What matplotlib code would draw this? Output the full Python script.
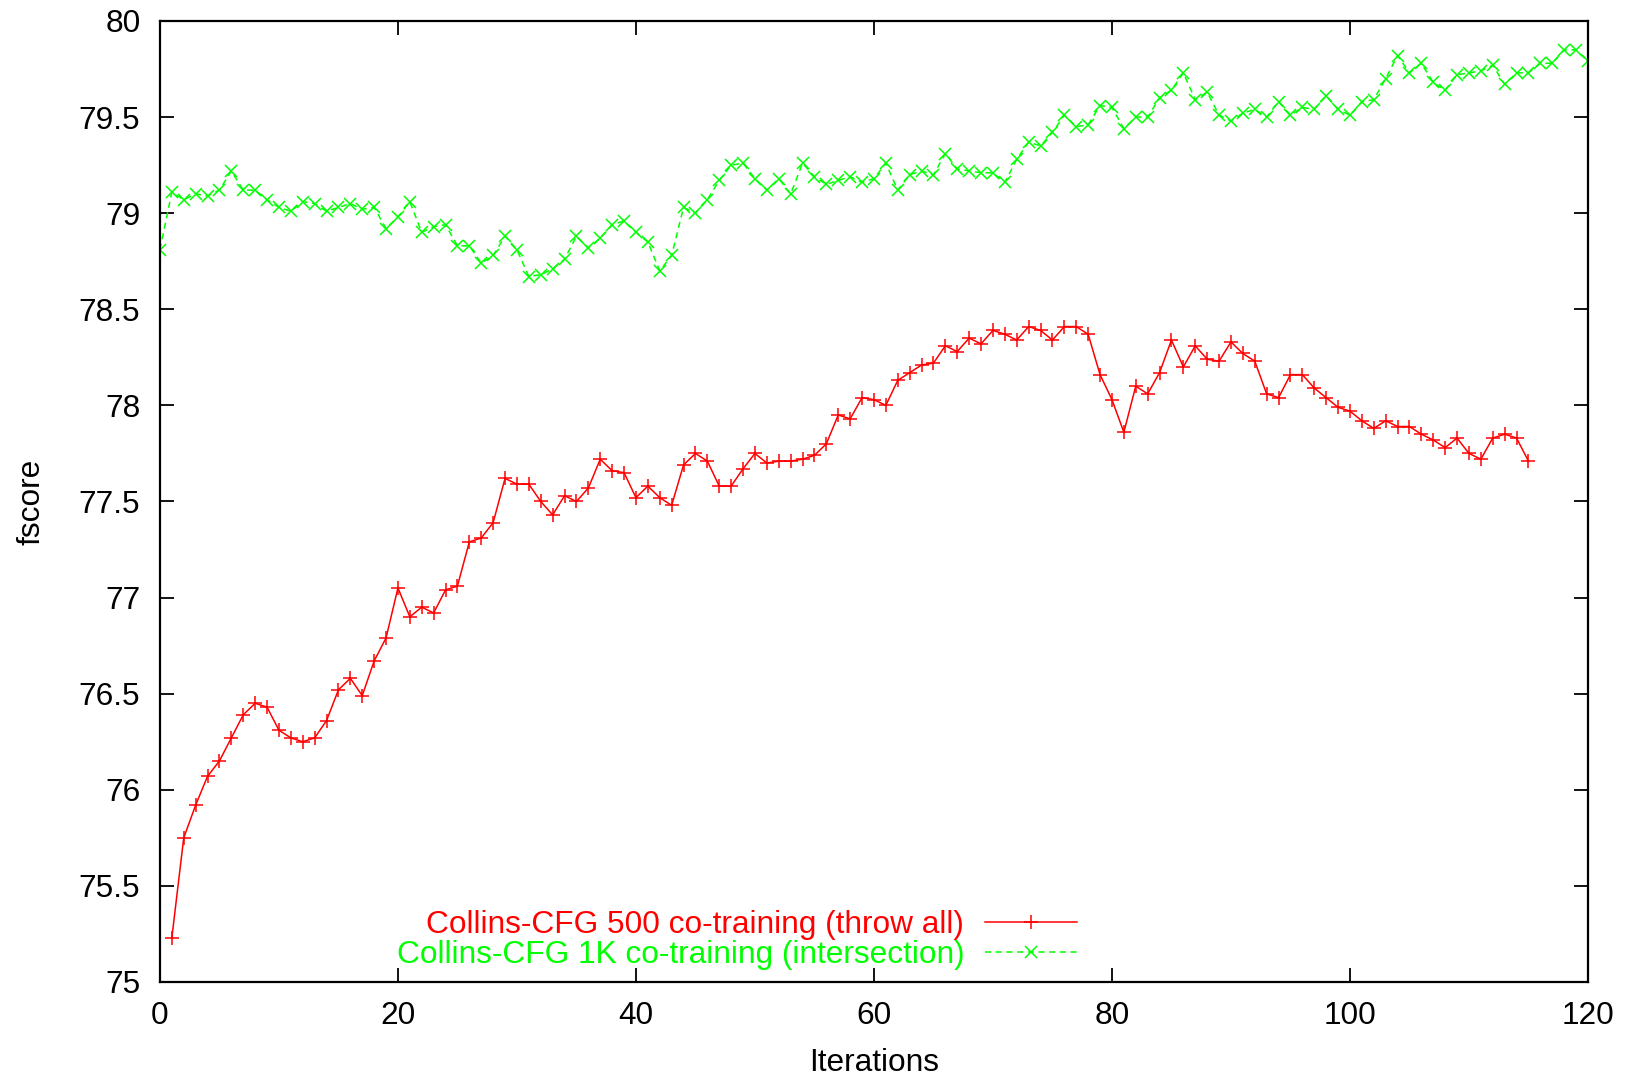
import matplotlib
matplotlib.use("Agg")
import matplotlib.pyplot as plt
from matplotlib.ticker import FuncFormatter, MultipleLocator

plt.rcParams['font.family'] = ['Liberation Sans', 'DejaVu Sans']

# Collins-CFG 500 co-training (throw all), iterations 1..115
red_x = list(range(1, 116))
red_y = [
    75.23, 75.75, 75.92, 76.07, 76.15, 76.27, 76.39, 76.45, 76.43, 76.31,
    76.27, 76.25, 76.27, 76.36, 76.52, 76.58, 76.49, 76.67, 76.79, 77.05,
    76.90, 76.95, 76.92, 77.04, 77.06, 77.29, 77.31, 77.39, 77.62, 77.59,
    77.59, 77.50, 77.43, 77.53, 77.50, 77.57, 77.72, 77.66, 77.65, 77.52,
    77.58, 77.52, 77.48, 77.69, 77.75, 77.71, 77.58, 77.58, 77.67, 77.75,
    77.70, 77.71, 77.71, 77.72, 77.74, 77.80, 77.95, 77.93, 78.04, 78.03,
    78.00, 78.13, 78.17, 78.21, 78.22, 78.31, 78.28, 78.35, 78.32, 78.39,
    78.37, 78.34, 78.41, 78.39, 78.34, 78.41, 78.41, 78.37, 78.16, 78.03,
    77.86, 78.10, 78.06, 78.17, 78.34, 78.20, 78.31, 78.24, 78.23, 78.33,
    78.27, 78.23, 78.06, 78.04, 78.16, 78.16, 78.09, 78.04, 77.99, 77.97,
    77.92, 77.88, 77.92, 77.89, 77.89, 77.85, 77.82, 77.78, 77.83, 77.75,
    77.72, 77.83, 77.85, 77.83, 77.71,
]

# Collins-CFG 1K co-training (intersection), iterations 0..120
green_x = list(range(0, 121))
green_y = [
    78.81, 79.11, 79.07, 79.10, 79.09, 79.12, 79.22, 79.12, 79.12, 79.07,
    79.03, 79.01, 79.06, 79.05, 79.01, 79.03, 79.05, 79.02, 79.03, 78.92,
    78.98, 79.06, 78.90, 78.93, 78.94, 78.83, 78.83, 78.74, 78.78, 78.88,
    78.81, 78.67, 78.68, 78.71, 78.76, 78.88, 78.82, 78.87, 78.94, 78.96,
    78.90, 78.85, 78.70, 78.78, 79.03, 79.00, 79.07, 79.17, 79.25, 79.26,
    79.18, 79.12, 79.18, 79.10, 79.26, 79.19, 79.15, 79.17, 79.19, 79.16,
    79.18, 79.26, 79.12, 79.20, 79.22, 79.20, 79.31, 79.23, 79.22, 79.21,
    79.21, 79.16, 79.28, 79.37, 79.35, 79.42, 79.51, 79.45, 79.46, 79.56,
    79.55, 79.44, 79.50, 79.50, 79.60, 79.64, 79.73, 79.59, 79.63, 79.51,
    79.48, 79.52, 79.54, 79.50, 79.58, 79.51, 79.55, 79.54, 79.61, 79.54,
    79.51, 79.58, 79.59, 79.70, 79.82, 79.73, 79.78, 79.68, 79.64, 79.72,
    79.73, 79.74, 79.77, 79.67, 79.73, 79.73, 79.78, 79.78, 79.85, 79.85,
    79.79,
]

red_label = "Collins-CFG 500 co-training (throw all)"
green_label = "Collins-CFG 1K co-training (intersection)"
x_label = "Iterations"
y_label = "fscore"

FS = 22.8

fig = plt.figure(figsize=(16.27, 10.81), dpi=100)
ax = fig.add_axes([0.0983, 0.0916, 0.8777, 0.889])

ax.plot(red_x, red_y, color='#ff0000', linestyle='-', linewidth=1.1,
        marker='+', markersize=10, markeredgewidth=1.1, label=red_label)
ax.plot(green_x, green_y, color='#00ff00', linestyle=(0, (4, 3)), linewidth=1.1,
        marker='x', markersize=9, markeredgewidth=1.1, label=green_label)

ax.set_xlim(0, 120)
ax.set_ylim(75, 80)
ax.xaxis.set_major_locator(MultipleLocator(20))
ax.yaxis.set_major_locator(MultipleLocator(0.5))
ax.yaxis.set_major_formatter(FuncFormatter(lambda v, p: f"{v:g}"))
ax.tick_params(axis='both', which='major', direction='in', length=10, width=1.3,
               labelsize=FS, top=True, right=True)
ax.tick_params(axis='x', pad=14)
ax.tick_params(axis='y', pad=14)
for s in ax.spines.values():
    s.set_linewidth(1.6)

ax.set_xlabel(x_label, fontsize=FS, labelpad=12)
ax.set_ylabel(y_label, fontsize=FS, labelpad=23)

leg = ax.legend(loc='lower right', bbox_to_anchor=(0.642, 0.012), frameon=False,
                markerfirst=False, fontsize=FS, handlelength=2.9,
                handletextpad=0.65, labelspacing=0.0, borderpad=0.0,
                borderaxespad=0.0)
for t, c in zip(leg.get_texts(), ['#ff0000', '#00ff00']):
    t.set_color(c)

fig.savefig("out.png", dpi=100)
